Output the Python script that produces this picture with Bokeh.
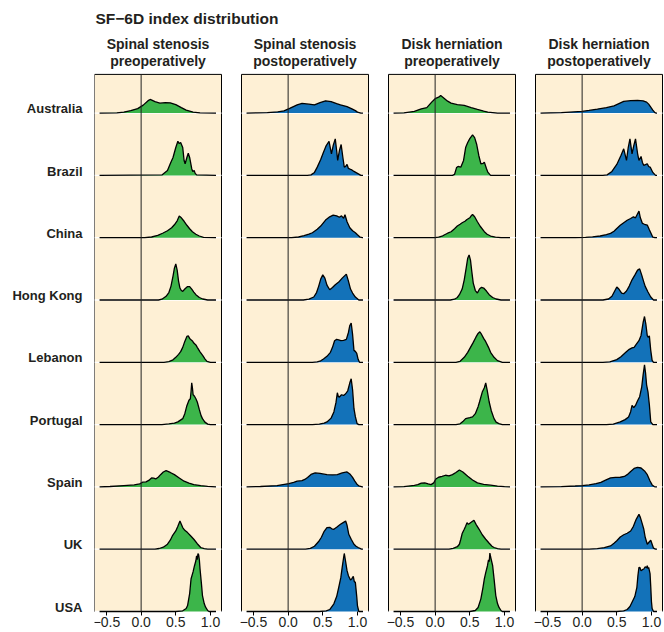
from bokeh.plotting import figure
from bokeh.models import Range1d, FixedTicker
from bokeh.core.properties import value
from bokeh.embed import file_html
from bokeh.resources import INLINE

# ---------------- data ----------------
TITLE = "SF\u22126D index distribution"
COUNTRIES = ["Australia", "Brazil", "China", "Hong Kong", "Lebanon",
             "Portugal", "Spain", "UK", "USA"]
PANEL_TITLES = ["Spinal stenosis\npreoperatively",
                "Spinal stenosis\npostoperatively",
                "Disk herniation\npreoperatively",
                "Disk herniation\npostoperatively"]
X_TICKS = [-0.5, 0.0, 0.5, 1.0]
X_TICK_LABELS = ["\u22120.5", "0.0", "0.5", "1.0"]

# density curves: (SF-6D value, scaled density) key points
SS_PRE = {
    "Australia": [(-0.35, 0.3), (-0.25, 1), (-0.15, 2.5), (-0.05, 4.5), (0.03, 8), (0.1, 12.5), (0.13, 13.7), (0.2, 11.5), (0.27, 10), (0.35, 10.5), (0.42, 10.3), (0.5, 8.5), (0.58, 5.5), (0.65, 3), (0.75, 1), (0.85, 0.2)],
    "Brazil": [(0.3, 0.5), (0.38, 5), (0.42, 11.7), (0.46, 18), (0.5, 28), (0.53, 34.3), (0.55, 32), (0.57, 33), (0.6, 28), (0.62, 15), (0.635, 11.7), (0.66, 18), (0.68, 22.3), (0.7, 18), (0.73, 6.7), (0.745, 4), (0.765, 5), (0.78, 2), (0.8, 0.5)],
    "China": [(0.05, 0), (0.15, 0.7), (0.24, 2.3), (0.31, 4.5), (0.38, 7), (0.44, 10), (0.48, 13), (0.52, 17), (0.55, 21.7), (0.58, 20), (0.62, 16.5), (0.66, 12.5), (0.7, 9), (0.74, 6), (0.79, 3.5), (0.84, 1.7), (0.9, 0.3)],
    "Hong Kong": [(0.25, 0), (0.3, 0.8), (0.36, 3.7), (0.4, 7.5), (0.43, 13.7), (0.46, 24), (0.48, 32), (0.5, 36.3), (0.52, 30), (0.54, 19), (0.56, 12), (0.58, 9.5), (0.6, 8.7), (0.63, 11), (0.67, 13.5), (0.7, 13.5), (0.73, 11), (0.76, 8), (0.79, 5.3), (0.84, 2.5), (0.89, 1), (0.96, 0)],
    "Lebanon": [(0.33, 0), (0.4, 0.7), (0.46, 2.5), (0.5, 5), (0.54, 8), (0.57, 10.7), (0.6, 15), (0.63, 21), (0.66, 26), (0.68, 26.5), (0.7, 24), (0.72, 22.7), (0.74, 21.5), (0.76, 19.3), (0.79, 17.5), (0.81, 15), (0.85, 10.5), (0.89, 6.7), (0.92, 3.5), (0.95, 1), (1.0, 0)],
    "Portugal": [(0.3, 0), (0.4, 0.7), (0.48, 1.5), (0.53, 2.7), (0.6, 6), (0.63, 11), (0.66, 19), (0.69, 24.5), (0.71, 26), (0.72, 33), (0.73, 42), (0.74, 37), (0.75, 30), (0.77, 28.5), (0.79, 26), (0.81, 22.7), (0.84, 15), (0.865, 9), (0.885, 6), (0.92, 2.5), (0.96, 0.5), (1.0, 0)],
    "Spain": [(-0.45, 0.4), (-0.25, 1.3), (-0.1, 2), (-0.02, 3), (0.02, 4.7), (0.07, 5), (0.11, 6.5), (0.15, 9), (0.18, 8.8), (0.21, 8), (0.25, 10), (0.28, 12.3), (0.32, 15), (0.36, 16.3), (0.42, 14.5), (0.48, 12.3), (0.55, 9), (0.62, 5.7), (0.69, 3.8), (0.76, 2.3), (0.86, 1.2), (0.96, 0.5)],
    "UK": [(0.2, 0), (0.26, 0.7), (0.32, 2), (0.38, 5), (0.42, 9), (0.45, 13.3), (0.5, 18.3), (0.53, 23), (0.56, 28.3), (0.58, 25), (0.6, 21.7), (0.63, 19), (0.67, 16.7), (0.72, 13), (0.76, 10), (0.81, 5.5), (0.86, 1.7), (0.91, 0.5), (0.96, 0)],
    "USA": [(0.5, 0), (0.6, 0.7), (0.65, 3), (0.67, 6), (0.7, 18), (0.72, 32.7), (0.75, 40), (0.77, 46), (0.79, 51), (0.8, 56), (0.81, 52), (0.82, 58.3), (0.83, 57), (0.84, 52), (0.85, 42.7), (0.87, 28), (0.885, 16), (0.91, 8), (0.93, 4.3), (0.96, 1), (0.98, 0)],
}
SS_POST = {
    "Australia": [(-0.45, 0.2), (-0.3, 0.5), (-0.15, 1.3), (-0.06, 2.3), (0.03, 5), (0.13, 8.3), (0.2, 9.7), (0.3, 9), (0.38, 8.3), (0.46, 10.5), (0.54, 12.3), (0.62, 11.5), (0.7, 9.5), (0.755, 8.3), (0.85, 6.5), (0.92, 4.3), (0.97, 2.5), (1.0, 1), (1.05, 0)],
    "Brazil": [(0.28, 0), (0.33, 0.5), (0.38, 3), (0.42, 8.3), (0.47, 16), (0.51, 23.3), (0.55, 30), (0.59, 34.3), (0.625, 21.7), (0.65, 30), (0.68, 36.7), (0.7, 25), (0.715, 15), (0.74, 25), (0.765, 31), (0.79, 18), (0.81, 8.3), (0.83, 9), (0.85, 11), (0.87, 7), (0.9, 6), (0.92, 5.5), (0.95, 4), (1.0, 2), (1.05, 0)],
    "China": [(0.05, 0), (0.15, 0.7), (0.23, 2), (0.3, 3.5), (0.35, 5), (0.42, 8.5), (0.47, 11.7), (0.54, 17.7), (0.6, 21), (0.65, 22.7), (0.7, 22), (0.74, 20.5), (0.77, 22), (0.8, 19.5), (0.82, 23), (0.85, 16), (0.89, 10), (0.93, 7), (0.97, 5), (1.0, 3), (1.04, 0.5), (1.07, 0)],
    "Hong Kong": [(0.22, 0), (0.3, 0.8), (0.37, 3), (0.41, 7.5), (0.44, 13.7), (0.47, 21), (0.5, 25.3), (0.53, 22), (0.56, 15), (0.6, 10.3), (0.64, 12.5), (0.68, 15.3), (0.73, 18), (0.78, 22), (0.84, 26), (0.87, 19), (0.9, 11), (0.93, 7), (0.97, 3), (1.02, 0)],
    "Lebanon": [(0.35, 0), (0.42, 0.5), (0.47, 1.5), (0.51, 3.3), (0.56, 6), (0.61, 10), (0.64, 15), (0.67, 21.7), (0.7, 23), (0.73, 22.5), (0.76, 21.7), (0.8, 22), (0.84, 23), (0.87, 30), (0.89, 37), (0.91, 39.3), (0.93, 28), (0.95, 12), (0.97, 11), (0.99, 9), (1.01, 3), (1.03, 0)],
    "Portugal": [(0.35, 0), (0.45, 0.5), (0.52, 1.5), (0.56, 2.7), (0.62, 6.5), (0.66, 12.7), (0.69, 22), (0.71, 32), (0.725, 28), (0.74, 27.7), (0.77, 30), (0.8, 29.3), (0.83, 31), (0.86, 34), (0.89, 42), (0.91, 46), (0.93, 35), (0.95, 16), (0.97, 8), (0.995, 1), (1.02, 0)],
    "Spain": [(-0.4, 0.4), (-0.16, 1.3), (0.01, 3.3), (0.08, 4.5), (0.13, 5.7), (0.2, 6.3), (0.24, 7.5), (0.28, 9.5), (0.33, 12.5), (0.39, 14), (0.46, 13.5), (0.56, 12.3), (0.64, 12), (0.71, 12.3), (0.78, 14), (0.85, 15), (0.89, 13), (0.93, 9.5), (0.96, 6), (0.99, 3), (1.02, 1), (1.07, 0)],
    "UK": [(0.25, 0), (0.32, 0.8), (0.38, 3), (0.44, 7.7), (0.48, 12), (0.52, 18), (0.56, 21.7), (0.6, 22), (0.63, 20.5), (0.66, 20), (0.7, 22), (0.755, 25), (0.8, 27), (0.83, 28.3), (0.85, 24), (0.875, 15), (0.91, 10), (0.95, 5), (0.98, 3), (1.01, 1.7), (1.06, 0)],
    "USA": [(0.45, 0), (0.55, 0.7), (0.6, 2), (0.66, 7.7), (0.7, 15), (0.73, 24.3), (0.76, 34), (0.78, 44.3), (0.8, 54), (0.81, 58.3), (0.83, 50), (0.85, 41), (0.87, 36), (0.9, 31.7), (0.92, 33), (0.94, 35.3), (0.955, 30), (0.97, 29.3), (0.99, 15), (1.0, 6), (1.02, 0)],
}
DH_PRE = {
    "Australia": [(-0.45, 0.3), (-0.3, 1.7), (-0.2, 4.3), (-0.12, 5.5), (-0.05, 11), (0.0, 14.5), (0.05, 16), (0.08, 17.7), (0.12, 15.5), (0.18, 12), (0.23, 10), (0.32, 8.5), (0.42, 7.7), (0.52, 5.5), (0.61, 3.7), (0.7, 2), (0.76, 1), (0.9, 0)],
    "Brazil": [(0.25, 0), (0.28, 1), (0.31, 8), (0.33, 9), (0.37, 8.3), (0.41, 15), (0.44, 28), (0.47, 33), (0.5, 37), (0.54, 40.7), (0.57, 38), (0.6, 31), (0.63, 20), (0.66, 11.7), (0.69, 12), (0.71, 13.3), (0.74, 7), (0.76, 3.3), (0.8, 0)],
    "China": [(0.0, 0), (0.05, 0.5), (0.1, 1.5), (0.13, 2.7), (0.18, 4.5), (0.23, 6), (0.28, 9), (0.32, 11.7), (0.36, 13.5), (0.39, 15), (0.43, 16.5), (0.46, 18.3), (0.5, 20), (0.52, 22), (0.54, 23.3), (0.57, 21), (0.61, 16), (0.65, 11.5), (0.71, 6), (0.75, 3.5), (0.8, 1.7), (0.87, 0.5), (0.95, 0)],
    "Hong Kong": [(0.22, 0), (0.28, 0.8), (0.32, 2.5), (0.35, 5.3), (0.39, 11), (0.42, 20.3), (0.45, 33), (0.47, 42), (0.49, 45.3), (0.51, 40), (0.53, 28), (0.55, 17), (0.58, 9.5), (0.61, 7), (0.64, 11), (0.67, 12.7), (0.7, 12), (0.74, 9), (0.78, 5.3), (0.83, 2.5), (0.88, 1), (0.95, 0)],
    "Lebanon": [(0.3, 0), (0.36, 1), (0.42, 5), (0.47, 10), (0.51, 15), (0.55, 20), (0.59, 25.5), (0.62, 29), (0.645, 30.7), (0.67, 28), (0.7, 24), (0.73, 20.7), (0.77, 15), (0.8, 10), (0.85, 5), (0.9, 1.7), (0.97, 0)],
    "Portugal": [(0.3, 0), (0.36, 0.8), (0.4, 3), (0.44, 6), (0.5, 7), (0.54, 7.7), (0.58, 11), (0.62, 18), (0.64, 22.7), (0.68, 32.7), (0.71, 37), (0.73, 42), (0.75, 35), (0.78, 22.7), (0.81, 14), (0.85, 6), (0.88, 2.5), (0.92, 1), (0.97, 0)],
    "Spain": [(-0.45, 0.3), (-0.3, 1.5), (-0.25, 2.3), (-0.2, 3.8), (-0.15, 4), (-0.1, 3), (-0.06, 2.3), (-0.02, 4), (0.01, 8), (0.05, 9.7), (0.1, 10.5), (0.15, 11.7), (0.2, 11), (0.25, 12.3), (0.3, 14.5), (0.35, 17), (0.4, 15), (0.47, 10.7), (0.54, 7), (0.61, 4), (0.7, 2.5), (0.8, 1.7), (0.9, 0.8), (1.0, 0.3)],
    "UK": [(0.2, 0), (0.26, 0.8), (0.32, 2.5), (0.35, 5), (0.37, 10), (0.39, 15.7), (0.42, 20), (0.44, 23), (0.46, 26.7), (0.48, 25), (0.5, 26), (0.53, 27.5), (0.56, 29), (0.59, 25), (0.635, 20), (0.68, 14.5), (0.73, 10), (0.78, 6), (0.82, 3), (0.85, 1.7), (0.9, 0.5), (0.95, 0)],
    "USA": [(0.5, 0), (0.58, 1), (0.62, 4), (0.66, 12.7), (0.69, 24), (0.71, 32.7), (0.73, 39), (0.755, 46), (0.77, 52), (0.78, 50), (0.79, 58.7), (0.8, 55), (0.81, 52), (0.83, 46), (0.85, 33), (0.875, 16), (0.9, 8), (0.92, 4.3), (0.95, 1), (0.97, 0)],
}
DH_POST = {
    "Australia": [(-0.3, 0.5), (0.0, 1.7), (0.1, 2.7), (0.22, 4), (0.35, 5.5), (0.46, 7.3), (0.53, 9.5), (0.6, 11.7), (0.7, 12.5), (0.8, 12.7), (0.88, 12.3), (0.93, 11), (0.96, 9), (0.99, 6), (1.02, 3), (1.05, 0.5), (1.07, 0)],
    "Brazil": [(0.3, 0), (0.36, 0.5), (0.43, 4), (0.5, 11), (0.56, 20), (0.6, 26.7), (0.64, 15), (0.665, 28), (0.69, 36.7), (0.72, 21.7), (0.745, 30), (0.77, 36.7), (0.8, 22), (0.82, 15), (0.85, 19), (0.87, 13), (0.89, 10), (0.92, 11), (0.94, 11.7), (0.96, 9), (0.985, 8), (1.02, 3), (1.06, 0)],
    "China": [(-0.1, 0), (0.05, 0.3), (0.15, 0.8), (0.26, 1.7), (0.35, 3), (0.41, 4.3), (0.46, 6.5), (0.5, 9.3), (0.55, 12.5), (0.6, 15), (0.65, 17.5), (0.7, 19.3), (0.74, 21), (0.77, 20), (0.8, 24), (0.82, 26.7), (0.84, 20), (0.87, 14.3), (0.9, 13.5), (0.94, 12.7), (0.97, 8), (0.99, 5), (1.02, 0.5), (1.05, 0)],
    "Hong Kong": [(0.3, 0), (0.38, 1), (0.43, 3.7), (0.47, 9), (0.5, 13), (0.53, 11), (0.57, 7), (0.6, 6.3), (0.64, 9), (0.68, 14), (0.72, 20.3), (0.76, 25), (0.8, 30), (0.83, 31.3), (0.86, 25), (0.89, 18), (0.91, 13.7), (0.95, 8), (0.99, 3), (1.03, 0)],
    "Lebanon": [(0.3, 0), (0.4, 0.5), (0.5, 2.7), (0.56, 5.5), (0.63, 10), (0.68, 13), (0.72, 14.5), (0.75, 15), (0.78, 18), (0.82, 21.7), (0.85, 27), (0.88, 40), (0.9, 46), (0.92, 38), (0.94, 26.7), (0.955, 25), (0.97, 26.7), (0.99, 12), (1.01, 2), (1.03, 0)],
    "Portugal": [(0.35, 0), (0.45, 0.5), (0.55, 2.7), (0.62, 5), (0.67, 7.7), (0.7, 13), (0.72, 19.3), (0.745, 17), (0.77, 19.3), (0.8, 24), (0.83, 28), (0.86, 38), (0.88, 50), (0.9, 60), (0.915, 52), (0.93, 40), (0.95, 33), (0.97, 20), (0.99, 2.7), (1.02, 0)],
    "Spain": [(-0.3, 0.3), (-0.1, 0.9), (0.0, 1.3), (0.1, 2), (0.2, 3.3), (0.27, 4.5), (0.33, 6.5), (0.41, 9), (0.48, 9.5), (0.55, 9.7), (0.61, 10.5), (0.65, 12.3), (0.7, 15.5), (0.75, 18.5), (0.8, 19.7), (0.85, 19), (0.9, 16), (0.94, 12.3), (0.98, 6), (1.01, 2), (1.04, 0.3), (1.06, 0)],
    "UK": [(0.1, 0), (0.22, 0.5), (0.32, 1.5), (0.41, 3.3), (0.46, 6), (0.5, 8.5), (0.55, 12.3), (0.6, 14.5), (0.65, 16), (0.7, 18.3), (0.74, 23), (0.78, 30), (0.82, 35), (0.84, 32), (0.87, 25), (0.89, 20), (0.91, 12), (0.94, 5), (0.97, 7.5), (0.99, 9), (1.01, 5), (1.03, 1), (1.06, 0)],
    "USA": [(0.5, 0), (0.6, 0.7), (0.65, 2), (0.69, 5), (0.72, 9.3), (0.76, 15), (0.79, 24.3), (0.805, 36), (0.82, 44.3), (0.835, 44), (0.85, 41), (0.87, 42), (0.89, 42.7), (0.91, 45), (0.93, 44), (0.94, 46), (0.95, 43), (0.96, 44.3), (0.98, 38), (0.99, 25), (1.0, 10), (1.01, 3), (1.03, 0)],
}
PANEL_DATA = [SS_PRE, SS_POST, DH_PRE, DH_POST]

# ---------------- style / layout ----------------
GREEN = "#3cb54a"
BLUE = "#1372b9"
PANEL_COLORS = [GREEN, BLUE, GREEN, BLUE]
BG = "#fef0d5"
INK = "#231f20"
FONT = "Liberation Sans"

X_MIN, X_MAX = -0.6, 1.08          # support over which each density is drawn
PX_PER_UNIT = 69.3                 # horizontal pixels per SF-6D unit
PANEL_XMIN = -0.673                # left edge of each facet (data units)
PANEL_XMAX = PANEL_XMIN + 127 / PX_PER_UNIT
PANEL_STEP = 147 / PX_PER_UNIT     # facet spacing in data units
ROW_PX = 62.3                      # pixels between ridge baselines
DENSITY_PER_ROW = 62.6             # density units that fill one row
N = len(COUNTRIES)
PANEL_TOP = N - 1 + 38.7 / ROW_PX  # facet top edge (row units)

W, H = 664, 632
BORDER_L = 94
FRAME_W, FRAME_H = W - BORDER_L, H
BASE_FROM_BOTTOM = 21              # px from canvas bottom to the lowest baseline
Y_BOTTOM = -BASE_FROM_BOTTOM / ROW_PX
Y_TOP = Y_BOTTOM + FRAME_H / ROW_PX


def y_at_px(px):
    """y position (row units) of a point px pixels below the canvas top."""
    return Y_TOP - px / ROW_PX


x_range = Range1d(PANEL_XMIN, PANEL_XMIN + FRAME_W / PX_PER_UNIT)
y_range = Range1d(Y_BOTTOM, Y_TOP)

p = figure(width=W, height=H, x_range=x_range, y_range=y_range,
           output_backend="svg", toolbar_location=None,
           min_border_left=BORDER_L, min_border_right=0,
           min_border_top=0, min_border_bottom=0)
p.background_fill_color = "white"
p.border_fill_color = "white"
p.outline_line_color = None
p.grid.visible = False

# x axis: the four facet scales
tick_pos, tick_lab = [], {}
for k in range(4):
    for t, lab in zip(X_TICKS, X_TICK_LABELS):
        v = k * PANEL_STEP + t
        tick_pos.append(v)
        tick_lab[v] = lab
xa = p.xaxis[0]
xa.fixed_location = 0
xa.ticker = FixedTicker(ticks=tick_pos)
xa.major_label_overrides = tick_lab
xa.axis_line_color = None
xa.major_tick_line_color = "black"
xa.major_tick_out = 4
xa.major_tick_in = 0
xa.minor_tick_line_color = None
xa.major_label_standoff = 1
xa.major_label_text_font = FONT
xa.major_label_text_font_size = "14px"
xa.major_label_text_color = INK

# y axis: country names, set slightly above each ridge baseline
LABEL_LIFT = 4.4 / ROW_PX
y_ticks = [N - 1 - i + LABEL_LIFT for i in range(N)]
ya = p.yaxis[0]
ya.ticker = FixedTicker(ticks=y_ticks)
ya.major_label_overrides = dict(zip(y_ticks, COUNTRIES))
ya.axis_line_color = None
ya.major_tick_line_color = None
ya.minor_tick_line_color = None
ya.major_tick_out = 0
ya.major_tick_in = 0
ya.major_label_standoff = 12
ya.major_label_text_font = FONT
ya.major_label_text_font_size = "13px"
ya.major_label_text_font_style = "bold"
ya.major_label_text_color = INK

# overall title
p.text(x=[PANEL_XMIN + 1 / PX_PER_UNIT], y=[y_at_px(18)], text=[TITLE],
       text_align="left", text_baseline="middle",
       text_font=value(FONT), text_font_size="15.5px", text_font_style="bold",
       text_color=INK)

bases = [N - 1 - i for i in range(N)]
for k in range(4):
    off = k * PANEL_STEP
    left, right = off + PANEL_XMIN, off + PANEL_XMAX
    # facet background + frame
    p.quad(left=[left], right=[right], bottom=[0], top=[PANEL_TOP],
           fill_color=BG, line_color="black", line_width=1)
    # white row guides
    p.segment(x0=[left] * N, x1=[right] * N, y0=bases, y1=bases,
              line_color="white", line_width=1.3)
    # ridges
    data = PANEL_DATA[k]
    for i, c in enumerate(COUNTRIES):
        base = bases[i]
        pts = data[c]
        xs = [off + X_MIN] + [off + q[0] for q in pts] + [off + X_MAX]
        hs = [0] + [q[1] for q in pts] + [0]
        ys = [base + h / DENSITY_PER_ROW for h in hs]
        p.varea(x=xs, y1=[base] * len(xs), y2=ys, fill_color=PANEL_COLORS[k])
        p.line(x=xs, y=ys, line_color="black", line_width=1.3)
    # zero reference line
    p.segment(x0=[off], x1=[off], y0=[0], y1=[PANEL_TOP], line_color="#222222", line_width=1)
    # facet title (two lines)
    l1, l2 = PANEL_TITLES[k].split("\n")
    cx = off + (PANEL_XMIN + PANEL_XMAX) / 2
    p.text(x=[cx, cx], y=[y_at_px(43), y_at_px(60)],
           text=[l1, l2], text_align="center", text_baseline="middle",
           text_font=value(FONT), text_font_size="14px", text_font_style="bold",
           text_color=INK)

open("out.html", "w").write(file_html(p, INLINE))
